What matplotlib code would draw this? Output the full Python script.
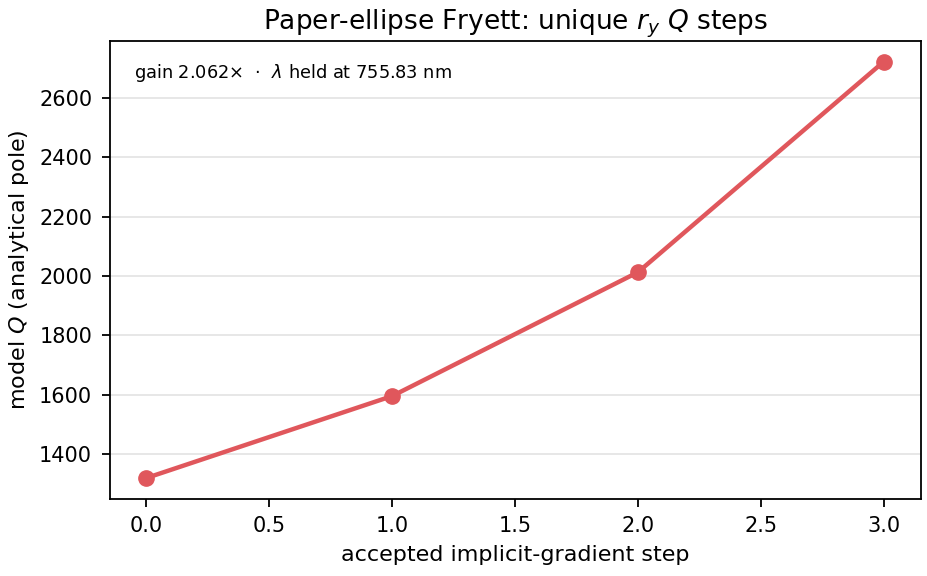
import matplotlib
matplotlib.use("Agg")
import matplotlib.pyplot as plt

# accepted implicit-gradient steps and model Q values
steps = [0, 1, 2, 3]
q_values = [1320, 1596, 2013, 2722]
gain = 2.062
wavelength_nm = 755.83

plt.rcParams['font.family'] = ['DejaVu Sans']

fig, ax = plt.subplots(figsize=(9.28, 5.76), dpi=100)
ax.plot(steps, q_values, '-o', color='#e0575c', lw=3.2, ms=11)

ax.set_title(r'Paper-ellipse Fryett: unique $r_y$ $Q$ steps', fontsize=19, pad=8)
ax.set_xlabel('accepted implicit-gradient step', fontsize=16, labelpad=6)
ax.set_ylabel(r'model $Q$ (analytical pole)', fontsize=16, labelpad=6)
ax.tick_params(labelsize=15, width=1.3, length=6, pad=6.5)
ax.grid(axis='y', color='#e3e3e3', lw=1.2)
ax.set_axisbelow(True)
for s in ax.spines.values():
    s.set_linewidth(1.3)

ax.text(0.03, 0.93, r'gain %.3f$\times$  $\cdot$  $\lambda$ held at %.2f nm' % (gain, wavelength_nm),
        transform=ax.transAxes, fontsize=12.8, va='center')

fig.subplots_adjust(left=0.118, right=0.992, top=0.929, bottom=0.134)
fig.savefig('out.png')
